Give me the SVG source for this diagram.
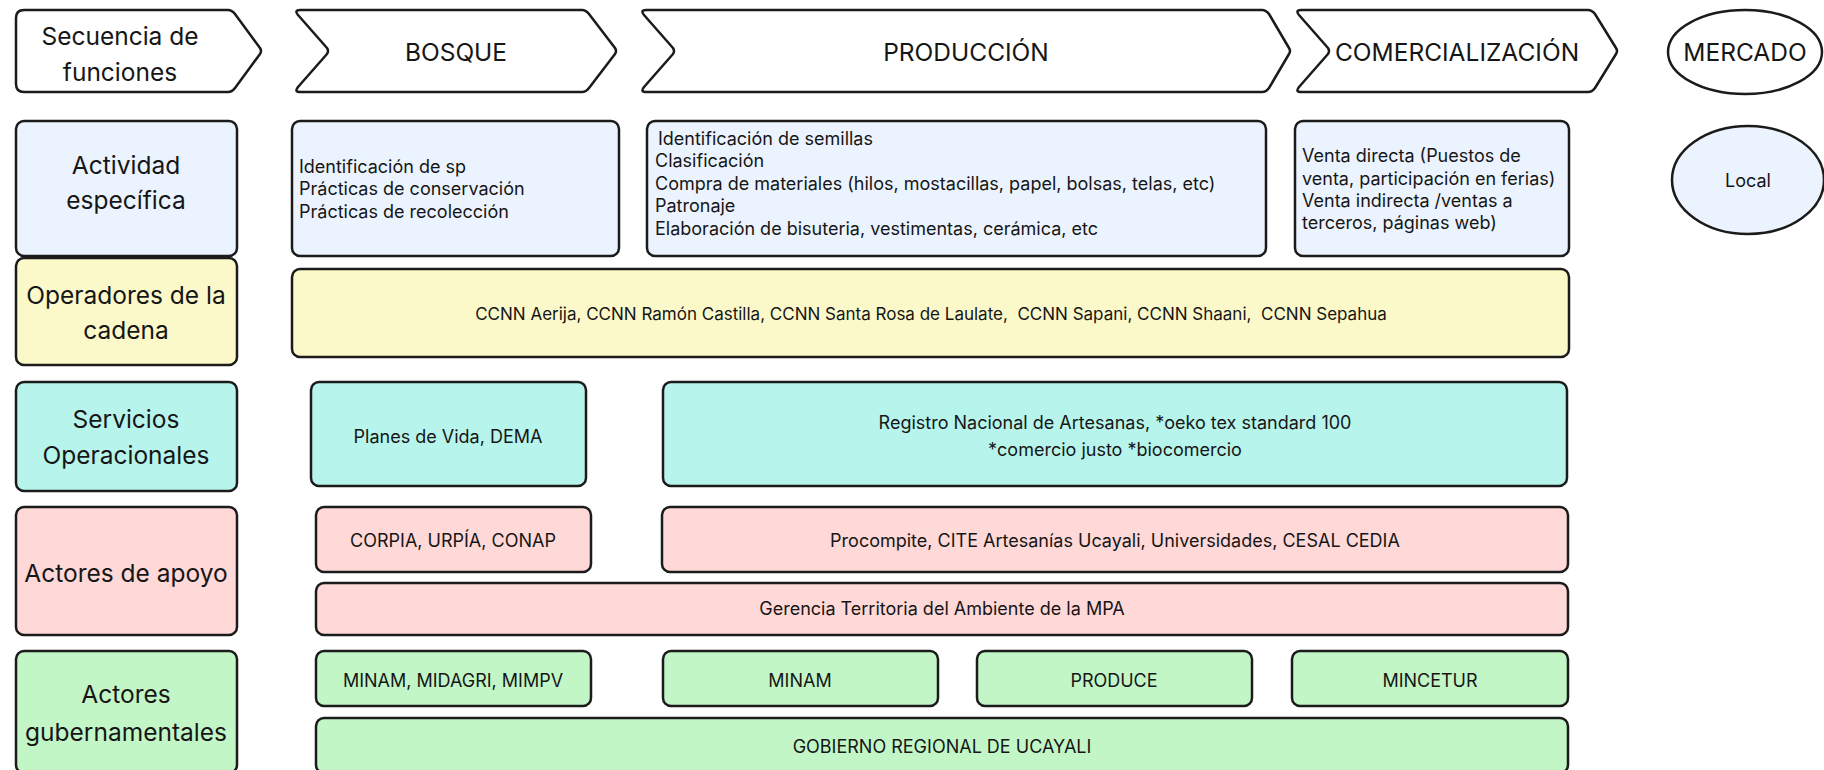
<svg xmlns="http://www.w3.org/2000/svg" width="1824" height="770" viewBox="0 0 1824 770">
<style>
.s{stroke:#1b1b1b;stroke-width:2.5;stroke-linejoin:round}
.w{fill:#ffffff}
.b{fill:#ebf3fe}
.y{fill:#fbf9c9}
.t{fill:#b7f4ec}
.p{fill:#ffd8d8}
.g{fill:#c3f6c7}
text{font-family:Inter,"Noto Sans","Liberation Sans",sans-serif;fill:#161616}
.L{font-size:24.5px;text-anchor:middle}
.H{font-size:24.5px;text-anchor:middle}
.n{font-size:18px;text-anchor:middle}
.a{font-size:18px}
</style>
<g id="connectors"></g>
<g id="h-secuencia">
<path class="s w" d="M24,10 L228,10 Q232,10 235,14 L260,48 Q262,51 260,54 L235,88 Q232,92 228,92 L24,92 Q16,92 16,84 L16,18 Q16,10 24,10 Z"/>
<text class="L" x="120" y="45">Secuencia de</text>
<text class="L" x="120" y="81">funciones</text>
</g>
<g id="h-bosque">
<path class="s w" d="M300,10 L582,10 Q586,10 589,14 L615,48 Q617,51 615,54 L589,88 Q586,92 582,92 L300,92 Q294,92 298,87 L327,54 Q329,51 327,48 L298,15 Q294,10 300,10 Z"/>
<text class="H" x="456" y="61">BOSQUE</text>
</g>
<g id="h-produccion">
<path class="s w" d="M646,10 L1262,10 Q1266,10 1269,14 L1289,48 Q1291,51 1289,54 L1269,88 Q1266,92 1262,92 L646,92 Q640,92 644,87 L673,54 Q675,51 673,48 L644,15 Q640,10 646,10 Z"/>
<text class="H" x="966" y="61">PRODUCCIÓN</text>
</g>
<g id="h-comercializacion">
<path class="s w" d="M1301,10 L1588,10 Q1592,10 1595,14 L1616,48 Q1618,51 1616,54 L1595,88 Q1592,92 1588,92 L1301,92 Q1295,92 1299,87 L1328,54 Q1330,51 1328,48 L1299,15 Q1295,10 1301,10 Z"/>
<text class="H" x="1457" y="61">COMERCIALIZACIÓN</text>
</g>
<g id="h-mercado">
<ellipse class="s w" cx="1745" cy="52" rx="77" ry="42"/>
<text class="H" x="1745" y="61">MERCADO</text>
</g>

<g id="l-actividad">
<rect class="s b" x="16" y="121" width="221" height="135" rx="8"/>
<text class="L" x="126" y="174">Actividad</text>
<text class="L" x="126" y="209">específica</text>
</g>
<g id="a-bosque">
<rect class="s b" x="292" y="121" width="327" height="135" rx="8"/>
<text class="a" x="299" y="173">Identificación de sp</text>
<text class="a" x="299" y="195">Prácticas de conservación</text>
<text class="a" x="299" y="218">Prácticas de recolección</text>
</g>
<g id="a-produccion">
<rect class="s b" x="647" y="121" width="619" height="135" rx="8"/>
<text class="a" x="658" y="145">Identificación de semillas</text>
<text class="a" x="655" y="167">Clasificación</text>
<text class="a" x="655" y="190">Compra de materiales (hilos, mostacillas, papel, bolsas, telas, etc)</text>
<text class="a" x="655" y="212">Patronaje</text>
<text class="a" x="655" y="235">Elaboración de bisuteria, vestimentas, cerámica, etc</text>
</g>
<g id="a-comercializacion">
<rect class="s b" x="1295" y="121" width="274" height="135" rx="8"/>
<text class="a" x="1302" y="162">Venta directa (Puestos de</text>
<text class="a" x="1302" y="185">venta, participación en ferias)</text>
<text class="a" x="1302" y="207">Venta indirecta /ventas a</text>
<text class="a" x="1302" y="229">terceros, páginas web)</text>
</g>
<g id="m-local">
<ellipse class="s b" cx="1748" cy="180" rx="76" ry="54"/>
<text class="n" x="1748" y="187">Local</text>
</g>

<g id="l-operadores">
<rect class="s y" x="16" y="258" width="221" height="107" rx="8"/>
<text class="L" x="126" y="304">Operadores de la</text>
<text class="L" x="126" y="339">cadena</text>
</g>
<g id="o-ccnn">
<rect class="s y" x="292" y="269" width="1277" height="88" rx="8"/>
<text class="n" x="931" y="320" style="font-size:17px" xml:space="preserve">CCNN Aerija, CCNN Ramón Castilla, CCNN Santa Rosa de Laulate,  CCNN Sapani, CCNN Shaani,  CCNN Sepahua</text>
</g>

<g id="l-servicios">
<rect class="s t" x="16" y="382" width="221" height="109" rx="8"/>
<text class="L" x="126" y="428">Servicios</text>
<text class="L" x="126" y="464">Operacionales</text>
</g>
<g id="s-planes">
<rect class="s t" x="311" y="382" width="275" height="104" rx="8"/>
<text class="n" x="448" y="443">Planes de Vida, DEMA</text>
</g>
<g id="s-registro">
<rect class="s t" x="663" y="382" width="904" height="104" rx="8"/>
<text class="n" x="1115" y="429">Registro Nacional de Artesanas, *oeko tex standard 100</text>
<text class="n" x="1115" y="456">*comercio justo *biocomercio</text>
</g>

<g id="l-apoyo">
<rect class="s p" x="16" y="507" width="221" height="128" rx="8"/>
<text class="L" x="126" y="582">Actores de apoyo</text>
</g>
<g id="ap-corpia">
<rect class="s p" x="316" y="507" width="275" height="65" rx="8"/>
<text class="n" x="453" y="547">CORPIA, URPÍA, CONAP</text>
</g>
<g id="ap-procompite">
<rect class="s p" x="662" y="507" width="906" height="65" rx="8"/>
<text class="n" x="1115" y="547">Procompite, CITE Artesanías Ucayali, Universidades, CESAL CEDIA</text>
</g>
<g id="ap-gerencia">
<rect class="s p" x="316" y="583" width="1252" height="52" rx="8"/>
<text class="n" x="942" y="615">Gerencia Territoria del Ambiente de la MPA</text>
</g>

<g id="l-gubernamentales">
<rect class="s g" x="16" y="651" width="221" height="122" rx="8"/>
<text class="L" x="126" y="703">Actores</text>
<text class="L" x="126" y="741">gubernamentales</text>
</g>
<g id="gb-minam-midagri">
<rect class="s g" x="316" y="651" width="275" height="55" rx="8"/>
<text class="n" x="453" y="687">MINAM, MIDAGRI, MIMPV</text>
</g>
<g id="gb-minam">
<rect class="s g" x="663" y="651" width="275" height="55" rx="8"/>
<text class="n" x="800" y="687">MINAM</text>
</g>
<g id="gb-produce">
<rect class="s g" x="977" y="651" width="275" height="55" rx="8"/>
<text class="n" x="1114" y="687">PRODUCE</text>
</g>
<g id="gb-mincetur">
<rect class="s g" x="1292" y="651" width="276" height="55" rx="8"/>
<text class="n" x="1430" y="687">MINCETUR</text>
</g>
<g id="gb-gobierno">
<rect class="s g" x="316" y="718" width="1252" height="55" rx="8"/>
<text class="n" x="942" y="753">GOBIERNO REGIONAL DE UCAYALI</text>
</g>
</svg>
